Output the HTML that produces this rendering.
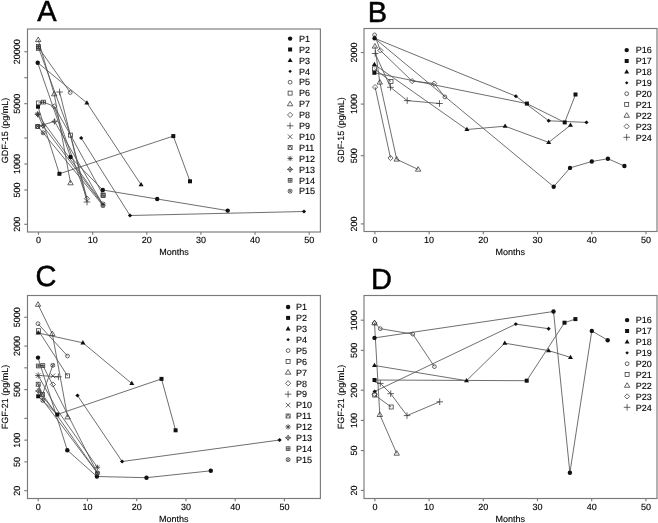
<!DOCTYPE html>
<html><head><meta charset="utf-8"><style>
html,body{margin:0;padding:0;background:#fff;}
svg{display:block;filter:grayscale(100%);}
text{font-family:"Liberation Sans",sans-serif;text-rendering:geometricPrecision;}
</style></head><body>
<svg width="658" height="523" viewBox="0 0 658 523">
<rect width="658" height="523" fill="#fff"/>
<g>
<polyline points="37.7,62.7 70.5,157 102.8,190 157.2,199 227.7,210.6" fill="none" stroke="#555" stroke-width="0.85" stroke-linejoin="round"/>
<polyline points="38,106.7 59.4,173.8 173.3,136.1 190,181.3" fill="none" stroke="#555" stroke-width="0.85" stroke-linejoin="round"/>
<polyline points="37.7,62.7 86.9,102.9 141.1,184.7" fill="none" stroke="#555" stroke-width="0.85" stroke-linejoin="round"/>
<polyline points="81.2,138 130,215.5 304,211.5" fill="none" stroke="#555" stroke-width="0.85" stroke-linejoin="round"/>
<polyline points="38.4,47.4 70.2,92.5" fill="none" stroke="#555" stroke-width="0.85" stroke-linejoin="round"/>
<polyline points="38.4,47.4 70.6,135.1 103.1,195" fill="none" stroke="#555" stroke-width="0.85" stroke-linejoin="round"/>
<polyline points="38.2,39.8 54.2,94 70.5,183" fill="none" stroke="#555" stroke-width="0.85" stroke-linejoin="round"/>
<polyline points="54.2,106.4 87,198.7" fill="none" stroke="#555" stroke-width="0.85" stroke-linejoin="round"/>
<polyline points="59.6,92 87,202" fill="none" stroke="#555" stroke-width="0.85" stroke-linejoin="round"/>
<polyline points="37.7,126.5 54.5,121.4 103,204.8" fill="none" stroke="#555" stroke-width="0.85" stroke-linejoin="round"/>
<polyline points="37.7,114.3 103,204" fill="none" stroke="#555" stroke-width="0.85" stroke-linejoin="round"/>
<polyline points="37.7,114.3 43,125.8 103,204.8" fill="none" stroke="#555" stroke-width="0.85" stroke-linejoin="round"/>
<polyline points="38.4,103 43.5,102.1 54.2,106.4 70.6,135.1 87,198.7" fill="none" stroke="#555" stroke-width="0.85" stroke-linejoin="round"/>
<polyline points="37.7,126.5 43.2,132.8 103,205.6" fill="none" stroke="#555" stroke-width="0.85" stroke-linejoin="round"/>
<circle cx="37.7" cy="62.7" r="2.2" fill="#111"/>
<circle cx="70.5" cy="157" r="2.2" fill="#111"/>
<circle cx="102.8" cy="190" r="2.2" fill="#111"/>
<circle cx="157.2" cy="199" r="2.2" fill="#111"/>
<circle cx="227.7" cy="210.6" r="2.2" fill="#111"/>
<rect x="36" y="104.7" width="4" height="4" fill="#111"/>
<rect x="57.4" y="171.8" width="4" height="4" fill="#111"/>
<rect x="171.3" y="134.1" width="4" height="4" fill="#111"/>
<rect x="188" y="179.3" width="4" height="4" fill="#111"/>
<polygon points="86.9,100.2 89.4,104.5 84.4,104.5" fill="#111"/>
<polygon points="141.1,182 143.6,186.3 138.6,186.3" fill="#111"/>
<polygon points="81.2,136.05 83.35,138 81.2,139.95 79.05,138" fill="#111"/>
<polygon points="130,213.55 132.15,215.5 130,217.45 127.85,215.5" fill="#111"/>
<polygon points="304,209.55 306.15,211.5 304,213.45 301.85,211.5" fill="#111"/>
<circle cx="38.4" cy="47.4" r="1.9" fill="none" stroke="#333" stroke-width="0.75"/>
<circle cx="70.2" cy="92.5" r="1.9" fill="none" stroke="#333" stroke-width="0.75"/>
<rect x="68.6" y="133.1" width="4" height="4" fill="none" stroke="#333" stroke-width="0.75"/>
<rect x="101.1" y="193" width="4" height="4" fill="none" stroke="#333" stroke-width="0.75"/>
<polygon points="38.2,37 40.9,41.6 35.5,41.6" fill="none" stroke="#333" stroke-width="0.75"/>
<polygon points="54.2,91.2 56.9,95.8 51.5,95.8" fill="none" stroke="#333" stroke-width="0.75"/>
<polygon points="70.5,180.2 73.2,184.8 67.8,184.8" fill="none" stroke="#333" stroke-width="0.75"/>
<polygon points="54.2,103.8 56.8,106.4 54.2,109 51.6,106.4" fill="none" stroke="#333" stroke-width="0.75"/>
<polygon points="87,196.1 89.6,198.7 87,201.3 84.4,198.7" fill="none" stroke="#333" stroke-width="0.75"/>
<path d="M56.3 92H62.9M59.6 88.7V95.3" stroke="#333" stroke-width="0.75"/>
<path d="M83.7 202H90.3M87 198.7V205.3" stroke="#333" stroke-width="0.75"/>
<rect x="35.7" y="124.5" width="4" height="4" fill="none" stroke="#3a3a3a" stroke-width="0.75"/>
<path d="M35.7 128.5L37.7 124.5L39.7 128.5" fill="none" stroke="#3a3a3a" stroke-width="0.75"/>
<polygon points="54.5,119.1 56.8,121.4 54.5,123.7 52.2,121.4" fill="none" stroke="#3a3a3a" stroke-width="0.75"/>
<path d="M51.5 121.4H57.5M54.5 118.4V124.4" stroke="#3a3a3a" stroke-width="0.75"/>
<path d="M35 114.3H40.4M37.7 111.6V117M35.76 112.36L39.64 116.24M35.76 116.24L39.64 112.36" stroke="#333" stroke-width="0.75"/>
<path d="M100.3 204H105.7M103 201.3V206.7M101.06 202.06L104.94 205.94M101.06 205.94L104.94 202.06" stroke="#333" stroke-width="0.75"/>
<polygon points="37.7,112 40,114.3 37.7,116.6 35.4,114.3" fill="none" stroke="#3a3a3a" stroke-width="0.75"/>
<path d="M34.7 114.3H40.7M37.7 111.3V117.3" stroke="#3a3a3a" stroke-width="0.75"/>
<polygon points="43,123.5 45.3,125.8 43,128.1 40.7,125.8" fill="none" stroke="#3a3a3a" stroke-width="0.75"/>
<path d="M40 125.8H46M43 122.8V128.8" stroke="#3a3a3a" stroke-width="0.75"/>
<rect x="41.6" y="100.2" width="3.8" height="3.8" fill="none" stroke="#333" stroke-width="0.75"/>
<path d="M41.6 102.1H45.4M43.5 100.2V104" stroke="#333" stroke-width="0.75"/>
<rect x="101.2" y="193.7" width="3.8" height="3.8" fill="none" stroke="#333" stroke-width="0.75"/>
<path d="M101.2 195.6H105M103.1 193.7V197.5" stroke="#333" stroke-width="0.75"/>
<circle cx="37.7" cy="126.5" r="2" fill="none" stroke="#333" stroke-width="0.75"/>
<path d="M36.26 125.06L39.14 127.94M36.26 127.94L39.14 125.06" stroke="#333" stroke-width="0.75"/>
<circle cx="43.2" cy="132.8" r="2" fill="none" stroke="#333" stroke-width="0.75"/>
<path d="M41.76 131.36L44.64 134.24M41.76 134.24L44.64 131.36" stroke="#333" stroke-width="0.75"/>
<circle cx="103" cy="205.6" r="2" fill="none" stroke="#333" stroke-width="0.75"/>
<path d="M101.56 204.16L104.44 207.04M101.56 207.04L104.44 204.16" stroke="#333" stroke-width="0.75"/>
<rect x="36.4" y="101" width="4" height="4" fill="none" stroke="#333" stroke-width="0.75"/>
<rect x="36.5" y="44.6" width="3.8" height="3.8" fill="none" stroke="#333" stroke-width="0.75"/>
<path d="M36.5 46.5H40.3M38.4 44.6V48.4" stroke="#333" stroke-width="0.75"/>
<rect x="36.4" y="46.3" width="4" height="4" fill="none" stroke="#3a3a3a" stroke-width="0.75"/>
<path d="M36.4 50.3L38.4 46.3L40.4 50.3" fill="none" stroke="#3a3a3a" stroke-width="0.75"/>
<rect x="27.5" y="29" width="292.9" height="203" fill="none" stroke="#7a7a7a" stroke-width="1.15"/>
<line x1="38.5" y1="232" x2="38.5" y2="234.8" stroke="#7a7a7a" stroke-width="1.15"/>
<text x="38.5" y="243" font-size="9" text-anchor="middle" fill="#000" stroke="#000" stroke-width="0.12">0</text>
<line x1="92.64" y1="232" x2="92.64" y2="234.8" stroke="#7a7a7a" stroke-width="1.15"/>
<text x="92.64" y="243" font-size="9" text-anchor="middle" fill="#000" stroke="#000" stroke-width="0.12">10</text>
<line x1="146.78" y1="232" x2="146.78" y2="234.8" stroke="#7a7a7a" stroke-width="1.15"/>
<text x="146.78" y="243" font-size="9" text-anchor="middle" fill="#000" stroke="#000" stroke-width="0.12">20</text>
<line x1="200.92" y1="232" x2="200.92" y2="234.8" stroke="#7a7a7a" stroke-width="1.15"/>
<text x="200.92" y="243" font-size="9" text-anchor="middle" fill="#000" stroke="#000" stroke-width="0.12">30</text>
<line x1="255.06" y1="232" x2="255.06" y2="234.8" stroke="#7a7a7a" stroke-width="1.15"/>
<text x="255.06" y="243" font-size="9" text-anchor="middle" fill="#000" stroke="#000" stroke-width="0.12">40</text>
<line x1="309.2" y1="232" x2="309.2" y2="234.8" stroke="#7a7a7a" stroke-width="1.15"/>
<text x="309.2" y="243" font-size="9" text-anchor="middle" fill="#000" stroke="#000" stroke-width="0.12">50</text>
<text x="174" y="255.4" font-size="9" text-anchor="middle" fill="#000" stroke="#000" stroke-width="0.12">Months</text>
<line x1="24.3" y1="224.3" x2="27.5" y2="224.3" stroke="#7a7a7a" stroke-width="1.15"/>
<text x="20.5" y="224.3" font-size="9" text-anchor="middle" fill="#000" stroke="#000" stroke-width="0.12" transform="rotate(-90 20.5 224.3)">200</text>
<line x1="24.3" y1="189.96" x2="27.5" y2="189.96" stroke="#7a7a7a" stroke-width="1.15"/>
<text x="20.5" y="189.96" font-size="9" text-anchor="middle" fill="#000" stroke="#000" stroke-width="0.12" transform="rotate(-90 20.5 189.96)">500</text>
<line x1="24.3" y1="163.98" x2="27.5" y2="163.98" stroke="#7a7a7a" stroke-width="1.15"/>
<text x="20.5" y="163.98" font-size="9" text-anchor="middle" fill="#000" stroke="#000" stroke-width="0.12" transform="rotate(-90 20.5 163.98)">1000</text>
<line x1="24.3" y1="138" x2="27.5" y2="138" stroke="#7a7a7a" stroke-width="1.15"/>
<line x1="24.3" y1="103.66" x2="27.5" y2="103.66" stroke="#7a7a7a" stroke-width="1.15"/>
<text x="20.5" y="103.66" font-size="9" text-anchor="middle" fill="#000" stroke="#000" stroke-width="0.12" transform="rotate(-90 20.5 103.66)">5000</text>
<line x1="24.3" y1="77.68" x2="27.5" y2="77.68" stroke="#7a7a7a" stroke-width="1.15"/>
<line x1="24.3" y1="51.7" x2="27.5" y2="51.7" stroke="#7a7a7a" stroke-width="1.15"/>
<text x="20.5" y="51.7" font-size="9" text-anchor="middle" fill="#000" stroke="#000" stroke-width="0.12" transform="rotate(-90 20.5 51.7)">20000</text>
<text x="7.8" y="130.5" font-size="9" text-anchor="middle" fill="#000" stroke="#000" stroke-width="0.12" transform="rotate(-90 7.8 130.5)">GDF-15 (pg/mL)</text>
<circle cx="290.1" cy="38.6" r="2.2" fill="#111"/>
<text x="299" y="41.8" font-size="9" text-anchor="start" fill="#000" stroke="#000" stroke-width="0.12">P1</text>
<rect x="288.1" y="47.5" width="4" height="4" fill="#111"/>
<text x="299" y="52.7" font-size="9" text-anchor="start" fill="#000" stroke="#000" stroke-width="0.12">P2</text>
<polygon points="290.1,57.7 292.6,62 287.6,62" fill="#111"/>
<text x="299" y="63.6" font-size="9" text-anchor="start" fill="#000" stroke="#000" stroke-width="0.12">P3</text>
<polygon points="290.1,69.7 291.86,71.3 290.1,72.9 288.34,71.3" fill="#111"/>
<text x="299" y="74.5" font-size="9" text-anchor="start" fill="#000" stroke="#000" stroke-width="0.12">P4</text>
<circle cx="290.1" cy="82.2" r="1.9" fill="none" stroke="#333" stroke-width="0.75"/>
<text x="299" y="85.4" font-size="9" text-anchor="start" fill="#000" stroke="#000" stroke-width="0.12">P5</text>
<rect x="288.1" y="91.1" width="4" height="4" fill="none" stroke="#333" stroke-width="0.75"/>
<text x="299" y="96.3" font-size="9" text-anchor="start" fill="#000" stroke="#000" stroke-width="0.12">P6</text>
<polygon points="290.1,101.2 292.8,105.8 287.4,105.8" fill="none" stroke="#333" stroke-width="0.75"/>
<text x="299" y="107.2" font-size="9" text-anchor="start" fill="#000" stroke="#000" stroke-width="0.12">P7</text>
<polygon points="290.1,112.3 292.7,114.9 290.1,117.5 287.5,114.9" fill="none" stroke="#333" stroke-width="0.75"/>
<text x="299" y="118.1" font-size="9" text-anchor="start" fill="#000" stroke="#000" stroke-width="0.12">P8</text>
<path d="M286.8 125.8H293.4M290.1 122.5V129.1" stroke="#333" stroke-width="0.75"/>
<text x="299" y="129" font-size="9" text-anchor="start" fill="#000" stroke="#000" stroke-width="0.12">P9</text>
<path d="M287.8 134.4L292.4 139M287.8 139L292.4 134.4" stroke="#333" stroke-width="0.75"/>
<text x="299" y="139.9" font-size="9" text-anchor="start" fill="#000" stroke="#000" stroke-width="0.12">P10</text>
<rect x="288.1" y="145.6" width="4" height="4" fill="none" stroke="#3a3a3a" stroke-width="0.75"/>
<path d="M288.1 149.6L290.1 145.6L292.1 149.6" fill="none" stroke="#3a3a3a" stroke-width="0.75"/>
<text x="299" y="150.8" font-size="9" text-anchor="start" fill="#000" stroke="#000" stroke-width="0.12">P11</text>
<path d="M287.4 158.5H292.8M290.1 155.8V161.2M288.16 156.56L292.04 160.44M288.16 160.44L292.04 156.56" stroke="#333" stroke-width="0.75"/>
<text x="299" y="161.7" font-size="9" text-anchor="start" fill="#000" stroke="#000" stroke-width="0.12">P12</text>
<polygon points="290.1,167.1 292.4,169.4 290.1,171.7 287.8,169.4" fill="none" stroke="#3a3a3a" stroke-width="0.75"/>
<path d="M287.1 169.4H293.1M290.1 166.4V172.4" stroke="#3a3a3a" stroke-width="0.75"/>
<text x="299" y="172.6" font-size="9" text-anchor="start" fill="#000" stroke="#000" stroke-width="0.12">P13</text>
<rect x="288.2" y="178.4" width="3.8" height="3.8" fill="none" stroke="#333" stroke-width="0.75"/>
<path d="M288.2 180.3H292M290.1 178.4V182.2" stroke="#333" stroke-width="0.75"/>
<text x="299" y="183.5" font-size="9" text-anchor="start" fill="#000" stroke="#000" stroke-width="0.12">P14</text>
<circle cx="290.1" cy="191.2" r="2" fill="none" stroke="#333" stroke-width="0.75"/>
<path d="M288.66 189.76L291.54 192.64M288.66 192.64L291.54 189.76" stroke="#333" stroke-width="0.75"/>
<text x="299" y="194.4" font-size="9" text-anchor="start" fill="#000" stroke="#000" stroke-width="0.12">P15</text>
<text x="37.2" y="20.5" font-size="29.0" text-anchor="start" fill="#000" stroke="#000" stroke-width="0.5">A</text>
</g>
<g>
<polyline points="374.6,38.3 553.7,186.7 570,167.9 591.8,161.5 607.9,158.7 624.4,166" fill="none" stroke="#555" stroke-width="0.85" stroke-linejoin="round"/>
<polyline points="374.4,72.8 526.9,103.6 564.7,122.4 575.5,94.5" fill="none" stroke="#555" stroke-width="0.85" stroke-linejoin="round"/>
<polyline points="374.4,64.5 466.9,129.5 505.1,126.2 548.7,142.4 570.5,125.2" fill="none" stroke="#555" stroke-width="0.85" stroke-linejoin="round"/>
<polyline points="374.6,38.3 515.9,96.2 548.7,120.8 586.5,122.4" fill="none" stroke="#555" stroke-width="0.85" stroke-linejoin="round"/>
<polyline points="374.6,34.9 380.3,50.4 412.1,81.1 434.2,83.5 444.9,96.9" fill="none" stroke="#555" stroke-width="0.85" stroke-linejoin="round"/>
<polyline points="374.4,68.8 391,81.5" fill="none" stroke="#555" stroke-width="0.85" stroke-linejoin="round"/>
<polyline points="374.9,46.3 379.8,82.3 396.7,159.3 418.1,169.4" fill="none" stroke="#555" stroke-width="0.85" stroke-linejoin="round"/>
<polyline points="375.1,87.1 390.5,158" fill="none" stroke="#555" stroke-width="0.85" stroke-linejoin="round"/>
<polyline points="375.2,53.5 390.5,87.3 407.2,100.6 439.5,103.5" fill="none" stroke="#555" stroke-width="0.85" stroke-linejoin="round"/>
<circle cx="374.6" cy="38.3" r="2.2" fill="#111"/>
<circle cx="553.7" cy="186.7" r="2.2" fill="#111"/>
<circle cx="570" cy="167.9" r="2.2" fill="#111"/>
<circle cx="591.8" cy="161.5" r="2.2" fill="#111"/>
<circle cx="607.9" cy="158.7" r="2.2" fill="#111"/>
<circle cx="624.4" cy="166" r="2.2" fill="#111"/>
<rect x="372.4" y="70.8" width="4" height="4" fill="#111"/>
<rect x="524.9" y="101.6" width="4" height="4" fill="#111"/>
<rect x="562.7" y="120.4" width="4" height="4" fill="#111"/>
<rect x="573.5" y="92.5" width="4" height="4" fill="#111"/>
<polygon points="374.4,61.8 376.9,66.1 371.9,66.1" fill="#111"/>
<polygon points="466.9,126.8 469.4,131.1 464.4,131.1" fill="#111"/>
<polygon points="505.1,123.5 507.6,127.8 502.6,127.8" fill="#111"/>
<polygon points="548.7,139.7 551.2,144 546.2,144" fill="#111"/>
<polygon points="570.5,122.5 573,126.8 568,126.8" fill="#111"/>
<polygon points="515.9,94.25 518.05,96.2 515.9,98.15 513.75,96.2" fill="#111"/>
<polygon points="548.7,118.85 550.85,120.8 548.7,122.75 546.55,120.8" fill="#111"/>
<polygon points="586.5,120.45 588.65,122.4 586.5,124.35 584.35,122.4" fill="#111"/>
<circle cx="374.6" cy="34.9" r="1.9" fill="none" stroke="#333" stroke-width="0.75"/>
<polygon points="380.3,47.8 382.9,50.4 380.3,53 377.7,50.4" fill="none" stroke="#333" stroke-width="0.75"/>
<polygon points="412.1,78.5 414.7,81.1 412.1,83.7 409.5,81.1" fill="none" stroke="#333" stroke-width="0.75"/>
<polygon points="434.2,80.9 436.8,83.5 434.2,86.1 431.6,83.5" fill="none" stroke="#333" stroke-width="0.75"/>
<circle cx="444.9" cy="96.9" r="1.9" fill="none" stroke="#333" stroke-width="0.75"/>
<rect x="372.4" y="66.8" width="4" height="4" fill="none" stroke="#333" stroke-width="0.75"/>
<rect x="389" y="79.5" width="4" height="4" fill="none" stroke="#333" stroke-width="0.75"/>
<polygon points="374.9,43.5 377.6,48.1 372.2,48.1" fill="none" stroke="#333" stroke-width="0.75"/>
<polygon points="379.8,79.5 382.5,84.1 377.1,84.1" fill="none" stroke="#333" stroke-width="0.75"/>
<polygon points="396.7,156.5 399.4,161.1 394,161.1" fill="none" stroke="#333" stroke-width="0.75"/>
<polygon points="418.1,166.6 420.8,171.2 415.4,171.2" fill="none" stroke="#333" stroke-width="0.75"/>
<polygon points="375.1,84.5 377.7,87.1 375.1,89.7 372.5,87.1" fill="none" stroke="#333" stroke-width="0.75"/>
<polygon points="390.5,155.4 393.1,158 390.5,160.6 387.9,158" fill="none" stroke="#333" stroke-width="0.75"/>
<path d="M371.9 53.5H378.5M375.2 50.2V56.8" stroke="#333" stroke-width="0.75"/>
<path d="M387.2 87.3H393.8M390.5 84V90.6" stroke="#333" stroke-width="0.75"/>
<path d="M403.9 100.6H410.5M407.2 97.3V103.9" stroke="#333" stroke-width="0.75"/>
<path d="M436.2 103.5H442.8M439.5 100.2V106.8" stroke="#333" stroke-width="0.75"/>
<rect x="364" y="28.5" width="293" height="203" fill="none" stroke="#7a7a7a" stroke-width="1.15"/>
<line x1="374.9" y1="231.5" x2="374.9" y2="234.3" stroke="#7a7a7a" stroke-width="1.15"/>
<text x="374.9" y="242.5" font-size="9" text-anchor="middle" fill="#000" stroke="#000" stroke-width="0.12">0</text>
<line x1="429.12" y1="231.5" x2="429.12" y2="234.3" stroke="#7a7a7a" stroke-width="1.15"/>
<text x="429.12" y="242.5" font-size="9" text-anchor="middle" fill="#000" stroke="#000" stroke-width="0.12">10</text>
<line x1="483.34" y1="231.5" x2="483.34" y2="234.3" stroke="#7a7a7a" stroke-width="1.15"/>
<text x="483.34" y="242.5" font-size="9" text-anchor="middle" fill="#000" stroke="#000" stroke-width="0.12">20</text>
<line x1="537.56" y1="231.5" x2="537.56" y2="234.3" stroke="#7a7a7a" stroke-width="1.15"/>
<text x="537.56" y="242.5" font-size="9" text-anchor="middle" fill="#000" stroke="#000" stroke-width="0.12">30</text>
<line x1="591.78" y1="231.5" x2="591.78" y2="234.3" stroke="#7a7a7a" stroke-width="1.15"/>
<text x="591.78" y="242.5" font-size="9" text-anchor="middle" fill="#000" stroke="#000" stroke-width="0.12">40</text>
<line x1="646" y1="231.5" x2="646" y2="234.3" stroke="#7a7a7a" stroke-width="1.15"/>
<text x="646" y="242.5" font-size="9" text-anchor="middle" fill="#000" stroke="#000" stroke-width="0.12">50</text>
<text x="510.3" y="254.9" font-size="9" text-anchor="middle" fill="#000" stroke="#000" stroke-width="0.12">Months</text>
<line x1="360.8" y1="223.9" x2="364" y2="223.9" stroke="#7a7a7a" stroke-width="1.15"/>
<text x="357" y="223.9" font-size="9" text-anchor="middle" fill="#000" stroke="#000" stroke-width="0.12" transform="rotate(-90 357 223.9)">200</text>
<line x1="360.8" y1="155.69" x2="364" y2="155.69" stroke="#7a7a7a" stroke-width="1.15"/>
<text x="357" y="155.69" font-size="9" text-anchor="middle" fill="#000" stroke="#000" stroke-width="0.12" transform="rotate(-90 357 155.69)">500</text>
<line x1="360.8" y1="104.1" x2="364" y2="104.1" stroke="#7a7a7a" stroke-width="1.15"/>
<text x="357" y="104.1" font-size="9" text-anchor="middle" fill="#000" stroke="#000" stroke-width="0.12" transform="rotate(-90 357 104.1)">1000</text>
<line x1="360.8" y1="52.5" x2="364" y2="52.5" stroke="#7a7a7a" stroke-width="1.15"/>
<text x="357" y="52.5" font-size="9" text-anchor="middle" fill="#000" stroke="#000" stroke-width="0.12" transform="rotate(-90 357 52.5)">2000</text>
<text x="344.3" y="130" font-size="9" text-anchor="middle" fill="#000" stroke="#000" stroke-width="0.12" transform="rotate(-90 344.3 130)">GDF-15 (pg/mL)</text>
<circle cx="626.7" cy="50.1" r="2.2" fill="#111"/>
<text x="635.7" y="53.3" font-size="9" text-anchor="start" fill="#000" stroke="#000" stroke-width="0.12">P16</text>
<rect x="624.7" y="59" width="4" height="4" fill="#111"/>
<text x="635.7" y="64.2" font-size="9" text-anchor="start" fill="#000" stroke="#000" stroke-width="0.12">P17</text>
<polygon points="626.7,69.2 629.2,73.5 624.2,73.5" fill="#111"/>
<text x="635.7" y="75.1" font-size="9" text-anchor="start" fill="#000" stroke="#000" stroke-width="0.12">P18</text>
<polygon points="626.7,81.2 628.46,82.8 626.7,84.4 624.94,82.8" fill="#111"/>
<text x="635.7" y="86" font-size="9" text-anchor="start" fill="#000" stroke="#000" stroke-width="0.12">P19</text>
<circle cx="626.7" cy="93.7" r="1.9" fill="none" stroke="#333" stroke-width="0.75"/>
<text x="635.7" y="96.9" font-size="9" text-anchor="start" fill="#000" stroke="#000" stroke-width="0.12">P20</text>
<rect x="624.7" y="102.6" width="4" height="4" fill="none" stroke="#333" stroke-width="0.75"/>
<text x="635.7" y="107.8" font-size="9" text-anchor="start" fill="#000" stroke="#000" stroke-width="0.12">P21</text>
<polygon points="626.7,112.7 629.4,117.3 624,117.3" fill="none" stroke="#333" stroke-width="0.75"/>
<text x="635.7" y="118.7" font-size="9" text-anchor="start" fill="#000" stroke="#000" stroke-width="0.12">P22</text>
<polygon points="626.7,123.8 629.3,126.4 626.7,129 624.1,126.4" fill="none" stroke="#333" stroke-width="0.75"/>
<text x="635.7" y="129.6" font-size="9" text-anchor="start" fill="#000" stroke="#000" stroke-width="0.12">P23</text>
<path d="M623.4 137.3H630M626.7 134V140.6" stroke="#333" stroke-width="0.75"/>
<text x="635.7" y="140.5" font-size="9" text-anchor="start" fill="#000" stroke="#000" stroke-width="0.12">P24</text>
<text x="367.8" y="21.7" font-size="29.0" text-anchor="start" fill="#000" stroke="#000" stroke-width="0.5">B</text>
</g>
<g>
<polyline points="38,357.6 67.3,450.2 96.9,476.5 146.5,477.7 210.8,470.8" fill="none" stroke="#555" stroke-width="0.85" stroke-linejoin="round"/>
<polyline points="38.2,396.3 57.3,414.5 161.5,378.9 175.6,430.3" fill="none" stroke="#555" stroke-width="0.85" stroke-linejoin="round"/>
<polyline points="38.1,333 82.9,342.8 131.8,383.5" fill="none" stroke="#555" stroke-width="0.85" stroke-linejoin="round"/>
<polyline points="77.5,395.5 122.1,461.5 279.6,440" fill="none" stroke="#555" stroke-width="0.85" stroke-linejoin="round"/>
<polyline points="38,323.7 67.5,356" fill="none" stroke="#555" stroke-width="0.85" stroke-linejoin="round"/>
<polyline points="38.5,330.7 67.6,375.9" fill="none" stroke="#555" stroke-width="0.85" stroke-linejoin="round"/>
<polyline points="38,304.5 52.3,333.8 67.6,417.1" fill="none" stroke="#555" stroke-width="0.85" stroke-linejoin="round"/>
<polyline points="41,375.6 58.4,376.8" fill="none" stroke="#555" stroke-width="0.85" stroke-linejoin="round"/>
<polyline points="38.2,384.2 42.5,394.4 97.4,473" fill="none" stroke="#555" stroke-width="0.85" stroke-linejoin="round"/>
<polyline points="38.2,375.5 57.3,410 97.4,467.3" fill="none" stroke="#555" stroke-width="0.85" stroke-linejoin="round"/>
<polyline points="42.5,394.4 52.8,365.3" fill="none" stroke="#555" stroke-width="0.85" stroke-linejoin="round"/>
<polyline points="38.2,391 57.3,414.5" fill="none" stroke="#555" stroke-width="0.85" stroke-linejoin="round"/>
<polyline points="38.2,366 42.9,365.6 97.4,473" fill="none" stroke="#555" stroke-width="0.85" stroke-linejoin="round"/>
<polyline points="38.2,384.2 42.9,400.4 97.4,473" fill="none" stroke="#555" stroke-width="0.85" stroke-linejoin="round"/>
<circle cx="38" cy="357.6" r="2.2" fill="#111"/>
<circle cx="67.3" cy="450.2" r="2.2" fill="#111"/>
<circle cx="96.9" cy="476.5" r="2.2" fill="#111"/>
<circle cx="146.5" cy="477.7" r="2.2" fill="#111"/>
<circle cx="210.8" cy="470.8" r="2.2" fill="#111"/>
<rect x="36.2" y="394.3" width="4" height="4" fill="#111"/>
<rect x="55.3" y="412.5" width="4" height="4" fill="#111"/>
<rect x="159.5" y="376.9" width="4" height="4" fill="#111"/>
<rect x="173.6" y="428.3" width="4" height="4" fill="#111"/>
<polygon points="38.1,330.3 40.6,334.6 35.6,334.6" fill="#111"/>
<polygon points="82.9,340.1 85.4,344.4 80.4,344.4" fill="#111"/>
<polygon points="131.8,380.8 134.3,385.1 129.3,385.1" fill="#111"/>
<polygon points="77.5,393.55 79.65,395.5 77.5,397.45 75.35,395.5" fill="#111"/>
<polygon points="122.1,459.55 124.25,461.5 122.1,463.45 119.95,461.5" fill="#111"/>
<polygon points="279.6,438.05 281.75,440 279.6,441.95 277.45,440" fill="#111"/>
<circle cx="38" cy="323.7" r="1.9" fill="none" stroke="#333" stroke-width="0.75"/>
<circle cx="67.5" cy="356" r="1.9" fill="none" stroke="#333" stroke-width="0.75"/>
<rect x="36.5" y="328.7" width="4" height="4" fill="none" stroke="#333" stroke-width="0.75"/>
<rect x="65.6" y="373.9" width="4" height="4" fill="none" stroke="#333" stroke-width="0.75"/>
<polygon points="38,301.7 40.7,306.3 35.3,306.3" fill="none" stroke="#333" stroke-width="0.75"/>
<polygon points="52.3,331 55,335.6 49.6,335.6" fill="none" stroke="#333" stroke-width="0.75"/>
<polygon points="67.6,414.3 70.3,418.9 64.9,418.9" fill="none" stroke="#333" stroke-width="0.75"/>
<polygon points="52.9,381.9 55.5,384.5 52.9,387.1 50.3,384.5" fill="none" stroke="#333" stroke-width="0.75"/>
<path d="M55.1 376.8H61.7M58.4 373.5V380.1" stroke="#333" stroke-width="0.75"/>
<path d="M50.5 373.6L55.1 378.2M50.5 378.2L55.1 373.6" stroke="#333" stroke-width="0.75"/>
<rect x="36.2" y="382.2" width="4" height="4" fill="none" stroke="#3a3a3a" stroke-width="0.75"/>
<path d="M36.2 386.2L38.2 382.2L40.2 386.2" fill="none" stroke="#3a3a3a" stroke-width="0.75"/>
<rect x="40.5" y="392.4" width="4" height="4" fill="none" stroke="#3a3a3a" stroke-width="0.75"/>
<path d="M40.5 396.4L42.5 392.4L44.5 396.4" fill="none" stroke="#3a3a3a" stroke-width="0.75"/>
<path d="M94.7 467.3H100.1M97.4 464.6V470M95.46 465.36L99.34 469.24M95.46 469.24L99.34 465.36" stroke="#333" stroke-width="0.75"/>
<circle cx="52.8" cy="365.3" r="2" fill="none" stroke="#333" stroke-width="0.75"/>
<path d="M51.36 363.86L54.24 366.74M51.36 366.74L54.24 363.86" stroke="#333" stroke-width="0.75"/>
<polygon points="38.2,388.7 40.5,391 38.2,393.3 35.9,391" fill="none" stroke="#3a3a3a" stroke-width="0.75"/>
<path d="M35.2 391H41.2M38.2 388V394" stroke="#3a3a3a" stroke-width="0.75"/>
<rect x="36.3" y="364.1" width="3.8" height="3.8" fill="none" stroke="#333" stroke-width="0.75"/>
<path d="M36.3 366H40.1M38.2 364.1V367.9" stroke="#333" stroke-width="0.75"/>
<rect x="41" y="363.7" width="3.8" height="3.8" fill="none" stroke="#333" stroke-width="0.75"/>
<path d="M41 365.6H44.8M42.9 363.7V367.5" stroke="#333" stroke-width="0.75"/>
<circle cx="42.9" cy="400.4" r="2" fill="none" stroke="#333" stroke-width="0.75"/>
<path d="M41.46 398.96L44.34 401.84M41.46 401.84L44.34 398.96" stroke="#333" stroke-width="0.75"/>
<circle cx="97.4" cy="473" r="2" fill="none" stroke="#333" stroke-width="0.75"/>
<path d="M95.96 471.56L98.84 474.44M95.96 474.44L98.84 471.56" stroke="#333" stroke-width="0.75"/>
<circle cx="97.4" cy="473" r="2" fill="none" stroke="#333" stroke-width="0.75"/>
<path d="M95.96 471.56L98.84 474.44M95.96 474.44L98.84 471.56" stroke="#333" stroke-width="0.75"/>
<path d="M35.1 375.5H41.3M38.2 372.39V378.61M35.96 373.26L40.44 377.74M35.96 377.74L40.44 373.26" stroke="#333" stroke-width="0.75"/>
<rect x="27.5" y="295.5" width="292.9" height="203" fill="none" stroke="#7a7a7a" stroke-width="1.15"/>
<line x1="38.2" y1="498.5" x2="38.2" y2="501.3" stroke="#7a7a7a" stroke-width="1.15"/>
<text x="38.2" y="509.5" font-size="9" text-anchor="middle" fill="#000" stroke="#000" stroke-width="0.12">0</text>
<line x1="87.45" y1="498.5" x2="87.45" y2="501.3" stroke="#7a7a7a" stroke-width="1.15"/>
<text x="87.45" y="509.5" font-size="9" text-anchor="middle" fill="#000" stroke="#000" stroke-width="0.12">10</text>
<line x1="136.7" y1="498.5" x2="136.7" y2="501.3" stroke="#7a7a7a" stroke-width="1.15"/>
<text x="136.7" y="509.5" font-size="9" text-anchor="middle" fill="#000" stroke="#000" stroke-width="0.12">20</text>
<line x1="185.95" y1="498.5" x2="185.95" y2="501.3" stroke="#7a7a7a" stroke-width="1.15"/>
<text x="185.95" y="509.5" font-size="9" text-anchor="middle" fill="#000" stroke="#000" stroke-width="0.12">30</text>
<line x1="235.2" y1="498.5" x2="235.2" y2="501.3" stroke="#7a7a7a" stroke-width="1.15"/>
<text x="235.2" y="509.5" font-size="9" text-anchor="middle" fill="#000" stroke="#000" stroke-width="0.12">40</text>
<line x1="284.45" y1="498.5" x2="284.45" y2="501.3" stroke="#7a7a7a" stroke-width="1.15"/>
<text x="284.45" y="509.5" font-size="9" text-anchor="middle" fill="#000" stroke="#000" stroke-width="0.12">50</text>
<text x="173.8" y="521.9" font-size="9" text-anchor="middle" fill="#000" stroke="#000" stroke-width="0.12">Months</text>
<line x1="24.3" y1="490.67" x2="27.5" y2="490.67" stroke="#7a7a7a" stroke-width="1.15"/>
<text x="20.5" y="490.67" font-size="9" text-anchor="middle" fill="#000" stroke="#000" stroke-width="0.12" transform="rotate(-90 20.5 490.67)">20</text>
<line x1="24.3" y1="461.9" x2="27.5" y2="461.9" stroke="#7a7a7a" stroke-width="1.15"/>
<text x="20.5" y="461.9" font-size="9" text-anchor="middle" fill="#000" stroke="#000" stroke-width="0.12" transform="rotate(-90 20.5 461.9)">50</text>
<line x1="24.3" y1="440.14" x2="27.5" y2="440.14" stroke="#7a7a7a" stroke-width="1.15"/>
<text x="20.5" y="440.14" font-size="9" text-anchor="middle" fill="#000" stroke="#000" stroke-width="0.12" transform="rotate(-90 20.5 440.14)">100</text>
<line x1="24.3" y1="418.37" x2="27.5" y2="418.37" stroke="#7a7a7a" stroke-width="1.15"/>
<line x1="24.3" y1="389.6" x2="27.5" y2="389.6" stroke="#7a7a7a" stroke-width="1.15"/>
<text x="20.5" y="389.6" font-size="9" text-anchor="middle" fill="#000" stroke="#000" stroke-width="0.12" transform="rotate(-90 20.5 389.6)">500</text>
<line x1="24.3" y1="367.84" x2="27.5" y2="367.84" stroke="#7a7a7a" stroke-width="1.15"/>
<line x1="24.3" y1="346.07" x2="27.5" y2="346.07" stroke="#7a7a7a" stroke-width="1.15"/>
<text x="20.5" y="346.07" font-size="9" text-anchor="middle" fill="#000" stroke="#000" stroke-width="0.12" transform="rotate(-90 20.5 346.07)">2000</text>
<line x1="24.3" y1="317.3" x2="27.5" y2="317.3" stroke="#7a7a7a" stroke-width="1.15"/>
<text x="20.5" y="317.3" font-size="9" text-anchor="middle" fill="#000" stroke="#000" stroke-width="0.12" transform="rotate(-90 20.5 317.3)">5000</text>
<text x="7.8" y="397" font-size="9" text-anchor="middle" fill="#000" stroke="#000" stroke-width="0.12" transform="rotate(-90 7.8 397)">FGF-21 (pg/mL)</text>
<circle cx="288.1" cy="307" r="2.2" fill="#111"/>
<text x="296.1" y="310.2" font-size="9" text-anchor="start" fill="#000" stroke="#000" stroke-width="0.12">P1</text>
<rect x="286.1" y="315.9" width="4" height="4" fill="#111"/>
<text x="296.1" y="321.1" font-size="9" text-anchor="start" fill="#000" stroke="#000" stroke-width="0.12">P2</text>
<polygon points="288.1,326.1 290.6,330.4 285.6,330.4" fill="#111"/>
<text x="296.1" y="332" font-size="9" text-anchor="start" fill="#000" stroke="#000" stroke-width="0.12">P3</text>
<polygon points="288.1,338.1 289.86,339.7 288.1,341.3 286.34,339.7" fill="#111"/>
<text x="296.1" y="342.9" font-size="9" text-anchor="start" fill="#000" stroke="#000" stroke-width="0.12">P4</text>
<circle cx="288.1" cy="350.6" r="1.9" fill="none" stroke="#333" stroke-width="0.75"/>
<text x="296.1" y="353.8" font-size="9" text-anchor="start" fill="#000" stroke="#000" stroke-width="0.12">P5</text>
<rect x="286.1" y="359.5" width="4" height="4" fill="none" stroke="#333" stroke-width="0.75"/>
<text x="296.1" y="364.7" font-size="9" text-anchor="start" fill="#000" stroke="#000" stroke-width="0.12">P6</text>
<polygon points="288.1,369.6 290.8,374.2 285.4,374.2" fill="none" stroke="#333" stroke-width="0.75"/>
<text x="296.1" y="375.6" font-size="9" text-anchor="start" fill="#000" stroke="#000" stroke-width="0.12">P7</text>
<polygon points="288.1,380.7 290.7,383.3 288.1,385.9 285.5,383.3" fill="none" stroke="#333" stroke-width="0.75"/>
<text x="296.1" y="386.5" font-size="9" text-anchor="start" fill="#000" stroke="#000" stroke-width="0.12">P8</text>
<path d="M284.8 394.2H291.4M288.1 390.9V397.5" stroke="#333" stroke-width="0.75"/>
<text x="296.1" y="397.4" font-size="9" text-anchor="start" fill="#000" stroke="#000" stroke-width="0.12">P9</text>
<path d="M285.8 402.8L290.4 407.4M285.8 407.4L290.4 402.8" stroke="#333" stroke-width="0.75"/>
<text x="296.1" y="408.3" font-size="9" text-anchor="start" fill="#000" stroke="#000" stroke-width="0.12">P10</text>
<rect x="286.1" y="414" width="4" height="4" fill="none" stroke="#3a3a3a" stroke-width="0.75"/>
<path d="M286.1 418L288.1 414L290.1 418" fill="none" stroke="#3a3a3a" stroke-width="0.75"/>
<text x="296.1" y="419.2" font-size="9" text-anchor="start" fill="#000" stroke="#000" stroke-width="0.12">P11</text>
<path d="M285.4 426.9H290.8M288.1 424.2V429.6M286.16 424.96L290.04 428.84M286.16 428.84L290.04 424.96" stroke="#333" stroke-width="0.75"/>
<text x="296.1" y="430.1" font-size="9" text-anchor="start" fill="#000" stroke="#000" stroke-width="0.12">P12</text>
<polygon points="288.1,435.5 290.4,437.8 288.1,440.1 285.8,437.8" fill="none" stroke="#3a3a3a" stroke-width="0.75"/>
<path d="M285.1 437.8H291.1M288.1 434.8V440.8" stroke="#3a3a3a" stroke-width="0.75"/>
<text x="296.1" y="441" font-size="9" text-anchor="start" fill="#000" stroke="#000" stroke-width="0.12">P13</text>
<rect x="286.2" y="446.8" width="3.8" height="3.8" fill="none" stroke="#333" stroke-width="0.75"/>
<path d="M286.2 448.7H290M288.1 446.8V450.6" stroke="#333" stroke-width="0.75"/>
<text x="296.1" y="451.9" font-size="9" text-anchor="start" fill="#000" stroke="#000" stroke-width="0.12">P14</text>
<circle cx="288.1" cy="459.6" r="2" fill="none" stroke="#333" stroke-width="0.75"/>
<path d="M286.66 458.16L289.54 461.04M286.66 461.04L289.54 458.16" stroke="#333" stroke-width="0.75"/>
<text x="296.1" y="462.8" font-size="9" text-anchor="start" fill="#000" stroke="#000" stroke-width="0.12">P15</text>
<text x="35.6" y="286.1" font-size="29.0" text-anchor="start" fill="#000" stroke="#000" stroke-width="0.5">C</text>
</g>
<g>
<polyline points="374.5,337.9 553.5,311.5 569.9,472.8 591.8,330.9 607.7,340.2" fill="none" stroke="#555" stroke-width="0.85" stroke-linejoin="round"/>
<polyline points="374.5,380 526.7,380.7 564.5,322.7 575.4,319.1" fill="none" stroke="#555" stroke-width="0.85" stroke-linejoin="round"/>
<polyline points="374.5,365.5 466.5,380.7 504.8,343.2 548.6,350.6 570.5,357.4" fill="none" stroke="#555" stroke-width="0.85" stroke-linejoin="round"/>
<polyline points="374.7,391.5 515.8,324.1 548.6,328.7" fill="none" stroke="#555" stroke-width="0.85" stroke-linejoin="round"/>
<polyline points="374.5,323 380.3,328.7 412.8,334.1 434.4,366.6" fill="none" stroke="#555" stroke-width="0.85" stroke-linejoin="round"/>
<polyline points="374.7,395 391.2,407" fill="none" stroke="#555" stroke-width="0.85" stroke-linejoin="round"/>
<polyline points="374.5,323 379.8,414.7 396.7,453.4" fill="none" stroke="#555" stroke-width="0.85" stroke-linejoin="round"/>
<polyline points="374.7,382 380.3,383.4 390.7,393.7 407,415.6 439.7,401.8" fill="none" stroke="#555" stroke-width="0.85" stroke-linejoin="round"/>
<circle cx="374.5" cy="337.9" r="2.2" fill="#111"/>
<circle cx="553.5" cy="311.5" r="2.2" fill="#111"/>
<circle cx="569.9" cy="472.8" r="2.2" fill="#111"/>
<circle cx="591.8" cy="330.9" r="2.2" fill="#111"/>
<circle cx="607.7" cy="340.2" r="2.2" fill="#111"/>
<rect x="372.5" y="378" width="4" height="4" fill="#111"/>
<rect x="524.7" y="378.7" width="4" height="4" fill="#111"/>
<rect x="562.5" y="320.7" width="4" height="4" fill="#111"/>
<rect x="573.4" y="317.1" width="4" height="4" fill="#111"/>
<polygon points="374.5,362.8 377,367.1 372,367.1" fill="#111"/>
<polygon points="466.5,378 469,382.3 464,382.3" fill="#111"/>
<polygon points="504.8,340.5 507.3,344.8 502.3,344.8" fill="#111"/>
<polygon points="548.6,347.9 551.1,352.2 546.1,352.2" fill="#111"/>
<polygon points="570.5,354.7 573,359 568,359" fill="#111"/>
<polygon points="374.7,389.55 376.85,391.5 374.7,393.45 372.55,391.5" fill="#111"/>
<polygon points="515.8,322.15 517.95,324.1 515.8,326.05 513.65,324.1" fill="#111"/>
<polygon points="548.6,326.75 550.75,328.7 548.6,330.65 546.45,328.7" fill="#111"/>
<circle cx="380.3" cy="328.7" r="1.9" fill="none" stroke="#333" stroke-width="0.75"/>
<circle cx="412.8" cy="334.1" r="1.9" fill="none" stroke="#333" stroke-width="0.75"/>
<circle cx="434.4" cy="366.6" r="1.9" fill="none" stroke="#333" stroke-width="0.75"/>
<rect x="372.7" y="393" width="4" height="4" fill="none" stroke="#333" stroke-width="0.75"/>
<rect x="389.2" y="405" width="4" height="4" fill="none" stroke="#333" stroke-width="0.75"/>
<polygon points="374.5,320.2 377.2,324.8 371.8,324.8" fill="none" stroke="#333" stroke-width="0.75"/>
<polygon points="379.8,411.9 382.5,416.5 377.1,416.5" fill="none" stroke="#333" stroke-width="0.75"/>
<polygon points="396.7,450.6 399.4,455.2 394,455.2" fill="none" stroke="#333" stroke-width="0.75"/>
<polygon points="374.5,320.4 377.1,323 374.5,325.6 371.9,323" fill="none" stroke="#333" stroke-width="0.75"/>
<path d="M377 383.4H383.6M380.3 380.1V386.7" stroke="#333" stroke-width="0.75"/>
<path d="M387.4 393.7H394M390.7 390.4V397" stroke="#333" stroke-width="0.75"/>
<path d="M403.7 415.6H410.3M407 412.3V418.9" stroke="#333" stroke-width="0.75"/>
<path d="M436.4 401.8H443M439.7 398.5V405.1" stroke="#333" stroke-width="0.75"/>
<polygon points="374.7,391.9 377.3,394.5 374.7,397.1 372.1,394.5" fill="none" stroke="#333" stroke-width="0.75"/>
<rect x="364" y="295.5" width="293" height="203" fill="none" stroke="#7a7a7a" stroke-width="1.15"/>
<line x1="374.9" y1="498.5" x2="374.9" y2="501.3" stroke="#7a7a7a" stroke-width="1.15"/>
<text x="374.9" y="509.5" font-size="9" text-anchor="middle" fill="#000" stroke="#000" stroke-width="0.12">0</text>
<line x1="429.1" y1="498.5" x2="429.1" y2="501.3" stroke="#7a7a7a" stroke-width="1.15"/>
<text x="429.1" y="509.5" font-size="9" text-anchor="middle" fill="#000" stroke="#000" stroke-width="0.12">10</text>
<line x1="483.3" y1="498.5" x2="483.3" y2="501.3" stroke="#7a7a7a" stroke-width="1.15"/>
<text x="483.3" y="509.5" font-size="9" text-anchor="middle" fill="#000" stroke="#000" stroke-width="0.12">20</text>
<line x1="537.5" y1="498.5" x2="537.5" y2="501.3" stroke="#7a7a7a" stroke-width="1.15"/>
<text x="537.5" y="509.5" font-size="9" text-anchor="middle" fill="#000" stroke="#000" stroke-width="0.12">30</text>
<line x1="591.7" y1="498.5" x2="591.7" y2="501.3" stroke="#7a7a7a" stroke-width="1.15"/>
<text x="591.7" y="509.5" font-size="9" text-anchor="middle" fill="#000" stroke="#000" stroke-width="0.12">40</text>
<line x1="645.9" y1="498.5" x2="645.9" y2="501.3" stroke="#7a7a7a" stroke-width="1.15"/>
<text x="645.9" y="509.5" font-size="9" text-anchor="middle" fill="#000" stroke="#000" stroke-width="0.12">50</text>
<text x="510.3" y="521.9" font-size="9" text-anchor="middle" fill="#000" stroke="#000" stroke-width="0.12">Months</text>
<line x1="360.8" y1="490.44" x2="364" y2="490.44" stroke="#7a7a7a" stroke-width="1.15"/>
<text x="357" y="490.44" font-size="9" text-anchor="middle" fill="#000" stroke="#000" stroke-width="0.12" transform="rotate(-90 357 490.44)">20</text>
<line x1="360.8" y1="450.56" x2="364" y2="450.56" stroke="#7a7a7a" stroke-width="1.15"/>
<text x="357" y="450.56" font-size="9" text-anchor="middle" fill="#000" stroke="#000" stroke-width="0.12" transform="rotate(-90 357 450.56)">50</text>
<line x1="360.8" y1="420.4" x2="364" y2="420.4" stroke="#7a7a7a" stroke-width="1.15"/>
<text x="357" y="420.4" font-size="9" text-anchor="middle" fill="#000" stroke="#000" stroke-width="0.12" transform="rotate(-90 357 420.4)">100</text>
<line x1="360.8" y1="390.24" x2="364" y2="390.24" stroke="#7a7a7a" stroke-width="1.15"/>
<text x="357" y="390.24" font-size="9" text-anchor="middle" fill="#000" stroke="#000" stroke-width="0.12" transform="rotate(-90 357 390.24)">200</text>
<line x1="360.8" y1="350.36" x2="364" y2="350.36" stroke="#7a7a7a" stroke-width="1.15"/>
<text x="357" y="350.36" font-size="9" text-anchor="middle" fill="#000" stroke="#000" stroke-width="0.12" transform="rotate(-90 357 350.36)">500</text>
<line x1="360.8" y1="320.2" x2="364" y2="320.2" stroke="#7a7a7a" stroke-width="1.15"/>
<text x="357" y="320.2" font-size="9" text-anchor="middle" fill="#000" stroke="#000" stroke-width="0.12" transform="rotate(-90 357 320.2)">1000</text>
<text x="344.3" y="397" font-size="9" text-anchor="middle" fill="#000" stroke="#000" stroke-width="0.12" transform="rotate(-90 344.3 397)">FGF-21 (pg/mL)</text>
<circle cx="627.1" cy="320.1" r="2.2" fill="#111"/>
<text x="635.7" y="323.3" font-size="9" text-anchor="start" fill="#000" stroke="#000" stroke-width="0.12">P16</text>
<rect x="625.1" y="329" width="4" height="4" fill="#111"/>
<text x="635.7" y="334.2" font-size="9" text-anchor="start" fill="#000" stroke="#000" stroke-width="0.12">P17</text>
<polygon points="627.1,339.2 629.6,343.5 624.6,343.5" fill="#111"/>
<text x="635.7" y="345.1" font-size="9" text-anchor="start" fill="#000" stroke="#000" stroke-width="0.12">P18</text>
<polygon points="627.1,351.2 628.86,352.8 627.1,354.4 625.34,352.8" fill="#111"/>
<text x="635.7" y="356" font-size="9" text-anchor="start" fill="#000" stroke="#000" stroke-width="0.12">P19</text>
<circle cx="627.1" cy="363.7" r="1.9" fill="none" stroke="#333" stroke-width="0.75"/>
<text x="635.7" y="366.9" font-size="9" text-anchor="start" fill="#000" stroke="#000" stroke-width="0.12">P20</text>
<rect x="625.1" y="372.6" width="4" height="4" fill="none" stroke="#333" stroke-width="0.75"/>
<text x="635.7" y="377.8" font-size="9" text-anchor="start" fill="#000" stroke="#000" stroke-width="0.12">P21</text>
<polygon points="627.1,382.7 629.8,387.3 624.4,387.3" fill="none" stroke="#333" stroke-width="0.75"/>
<text x="635.7" y="388.7" font-size="9" text-anchor="start" fill="#000" stroke="#000" stroke-width="0.12">P22</text>
<polygon points="627.1,393.8 629.7,396.4 627.1,399 624.5,396.4" fill="none" stroke="#333" stroke-width="0.75"/>
<text x="635.7" y="399.6" font-size="9" text-anchor="start" fill="#000" stroke="#000" stroke-width="0.12">P23</text>
<path d="M623.8 407.3H630.4M627.1 404V410.6" stroke="#333" stroke-width="0.75"/>
<text x="635.7" y="410.5" font-size="9" text-anchor="start" fill="#000" stroke="#000" stroke-width="0.12">P24</text>
<text x="370.9" y="289.1" font-size="29.0" text-anchor="start" fill="#000" stroke="#000" stroke-width="0.5">D</text>
</g>
</svg>
</body></html>
